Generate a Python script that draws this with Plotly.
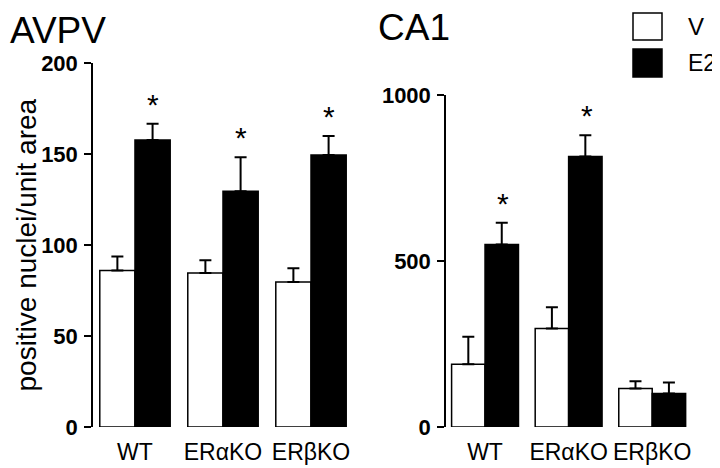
import plotly.graph_objects as go

grupos = ["WT", "ERαKO", "ERβKO"]

avpv_v = [86, 84.6, 79.7]
avpv_v_err = [7.7, 7, 7.5]
avpv_e2 = [157.7, 129.5, 149.5]
avpv_e2_err = [8.9, 18.7, 10.4]

ca1_v = [189, 297, 116]
ca1_v_err = [83, 64, 22]
ca1_e2 = [550, 815, 101]
ca1_e2_err = [65, 64, 33]

# asterisco sobre as barras E2 (True = significativo)
avpv_sig = [True, True, True]
ca1_sig = [True, True, False]

FONTE = "Arial, Liberation Sans, sans-serif"
# a pagina tem 8px de margem no body, entao a figura fica 8px menor
OFF = 8
W, H = 720 - OFF, 468 - OFF


def px_x(v):
    return (v - OFF) / W


def px_y(v):
    return 1 - (v - OFF) / H


def barra(x, y, err, cor, eixo_x, eixo_y):
    return go.Bar(
        x=x,
        y=y,
        marker=dict(color=cor, line=dict(color="black", width=1.5)),
        error_y=dict(
            type="data",
            symmetric=False,
            array=err,
            arrayminus=[0] * len(err),
            color="black",
            thickness=2,
            width=6,
        ),
        xaxis=eixo_x,
        yaxis=eixo_y,
        showlegend=False,
    )


fig = go.Figure()
fig.add_trace(barra(grupos, avpv_v, avpv_v_err, "white", "x", "y"))
fig.add_trace(barra(grupos, avpv_e2, avpv_e2_err, "black", "x", "y"))
fig.add_trace(barra(grupos, ca1_v, ca1_v_err, "white", "x2", "y2"))
fig.add_trace(barra(grupos, ca1_e2, ca1_e2_err, "black", "x2", "y2"))

eixo_x = dict(
    showline=False,
    showgrid=False,
    zeroline=False,
    automargin=False,
    ticks="",
    tickangle=0,
    tickfont=dict(family=FONTE, size=23, color="black"),
    ticklabelstandoff=9,
)
eixo_y = dict(
    showline=True,
    linecolor="black",
    linewidth=1.5,
    showgrid=False,
    zeroline=False,
    automargin=False,
    ticks="outside",
    ticklen=7,
    tickwidth=1.5,
    tickcolor="black",
    tickfont=dict(family=FONTE, size=22, color="black", weight="bold"),
    ticklabelstandoff=2,
)

fig.update_layout(
    width=W,
    height=H,
    margin=dict(l=0, r=0, t=0, b=0, autoexpand=False),
    paper_bgcolor="white",
    plot_bgcolor="white",
    barmode="group",
    bargap=0.2,
    bargroupgap=0,
    xaxis=dict(eixo_x, domain=[px_x(93), px_x(355)], range=[-0.477, 2.5], anchor="y"),
    yaxis=dict(eixo_y, domain=[px_y(427), px_y(63)], range=[0, 200],
               tickvals=[0, 50, 100, 150, 200], anchor="x"),
    xaxis2=dict(eixo_x, domain=[px_x(446), px_x(694)], range=[-0.467, 2.5], anchor="y2"),
    yaxis2=dict(eixo_y, domain=[px_y(427), px_y(95)], range=[0, 1000],
                tickvals=[0, 500, 1000], anchor="x2"),
)

# asteriscos
for eixo, medias, erros, sig in [
    ("", avpv_e2, avpv_e2_err, avpv_sig),
    ("2", ca1_e2, ca1_e2_err, ca1_sig),
]:
    for i, g in enumerate(grupos):
        if not sig[i]:
            continue
        fig.add_annotation(
            x=i,
            y=medias[i] + erros[i],
            xref="x" + eixo,
            yref="y" + eixo,
            xshift=18,
            text="*",
            showarrow=False,
            yanchor="bottom",
            yshift=1,
            font=dict(family=FONTE, size=30, color="black"),
        )

# titulos dos paineis
fig.add_annotation(x=0, y=1, xref="paper", yref="paper", text="AVPV",
                   showarrow=False, xanchor="left", yanchor="top",
                   font=dict(family=FONTE, size=37, color="black"))
fig.add_annotation(x=px_x(376), y=px_y(28), xref="paper", yref="paper", text="CA1",
                   showarrow=False, xanchor="left", yanchor="middle",
                   font=dict(family=FONTE, size=37, color="black"))

# titulo do eixo y
fig.add_annotation(x=0, y=px_y(245), xref="paper", yref="paper",
                   text="positive nuclei/unit area", textangle=-90, showarrow=False,
                   xanchor="left", yanchor="middle",
                   font=dict(family=FONTE, size=28, color="black"))

# legenda
fig.add_shape(type="rect", xref="paper", yref="paper",
              x0=px_x(633), x1=px_x(662), y0=px_y(40), y1=px_y(13),
              fillcolor="white", line=dict(color="black", width=1.5))
fig.add_shape(type="rect", xref="paper", yref="paper",
              x0=px_x(633), x1=px_x(662), y0=px_y(77), y1=px_y(49),
              fillcolor="black", line=dict(color="black", width=1.5))
fig.add_annotation(x=px_x(686), y=px_y(27), xref="paper", yref="paper", text="V",
                   showarrow=False, xanchor="left", yanchor="middle",
                   font=dict(family=FONTE, size=24, color="black"))
fig.add_annotation(x=px_x(686), y=px_y(63), xref="paper", yref="paper", text="E2",
                   showarrow=False, xanchor="left", yanchor="middle",
                   font=dict(family=FONTE, size=23, color="black"))

fig.write_html("out.html")
